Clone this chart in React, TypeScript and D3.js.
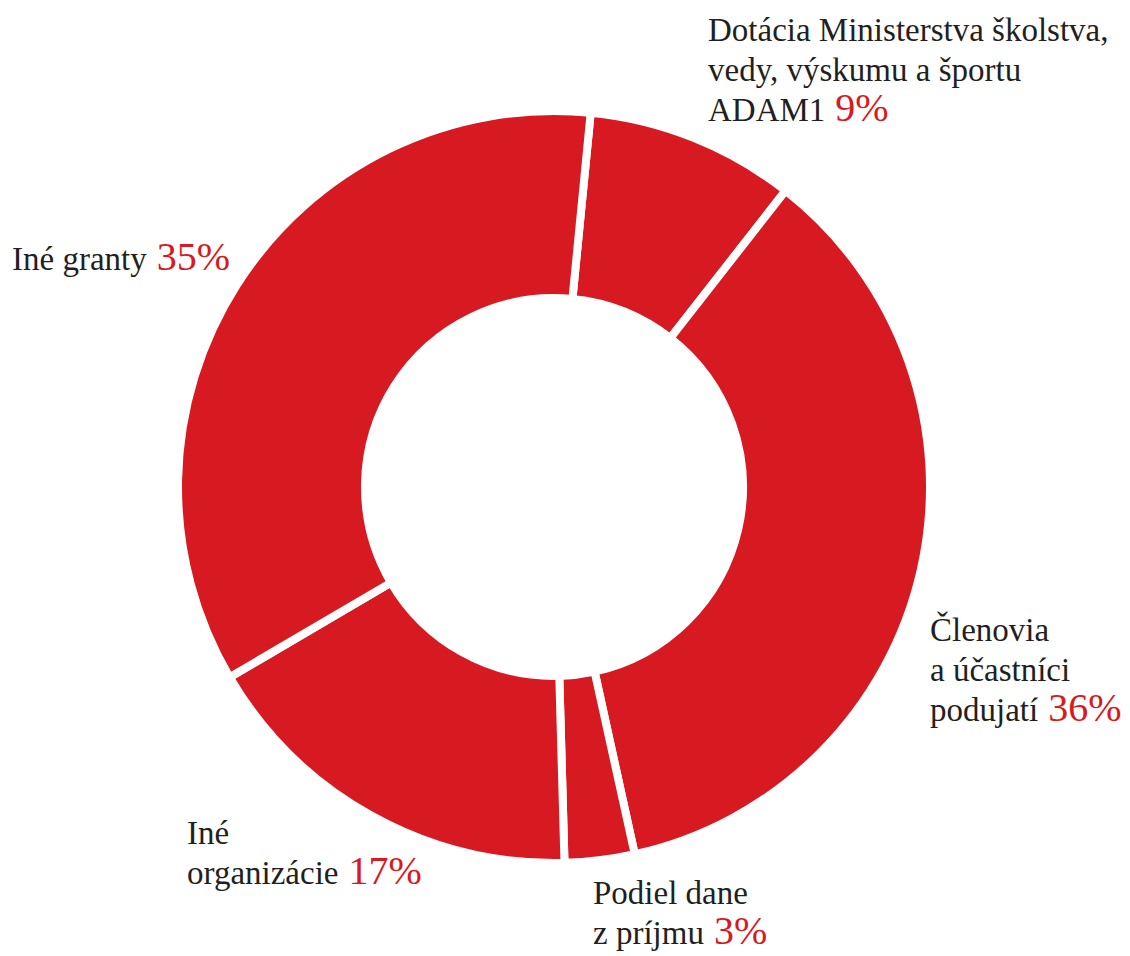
import React from "react";
import * as d3 from "d3";

// ---- data ----
const categories: string[] = [
  "Dotácia Ministerstva školstva, vedy, výskumu a športu ADAM1",
  "Členovia a účastníci podujatí",
  "Podiel dane z príjmu",
  "Iné organizácie",
  "Iné granty",
];
const values: number[] = [9, 36, 3, 17, 35];
// label text broken into lines (last line gets the percentage)
const labelLines: string[][] = [
  ["Dotácia Ministerstva školstva,", "vedy, výskumu a športu", "ADAM1"],
  ["Členovia", "a účastníci", "podujatí"],
  ["Podiel dane", "z príjmu"],
  ["Iné", "organizácie"],
  ["Iné granty"],
];

// ---- layout (not data) ----
const W = 1130;
const H = 956;
const CX = 554;
const CY = 487;
const R_OUT = 376;
const R_IN = 189;
const GAP = 8;
const START_DEG = 5.6;
const RED = "#d71a21";
const TEXT = "#231f20";
const FONT = "'Liberation Serif', 'Times New Roman', serif";
const FS = 33;
const FS_PCT = 40;
const LINE_H = 40;
const labelAnchors: { x: number; y: number }[] = [
  { x: 708, y: 41 },
  { x: 930, y: 641 },
  { x: 593, y: 904 },
  { x: 187, y: 844 },
  { x: 12, y: 270 },
];

export default function App() {
  const start = (START_DEG * Math.PI) / 180;
  const pie = d3
    .pie<number>()
    .value((d) => d)
    .sort(null)
    .startAngle(start)
    .endAngle(start + 2 * Math.PI);
  const arcs = pie(values);
  const arcGen = d3.arc<d3.PieArcDatum<number>>().innerRadius(R_IN).outerRadius(R_OUT);

  return (
    <svg
      width={W}
      height={H}
      viewBox={`0 0 ${W} ${H}`}
      style={{ position: "absolute", left: 0, top: 0, background: "#fff" }}
    >
      <g transform={`translate(${CX},${CY})`}>
        {arcs.map((a, i) => (
          <path
            key={categories[i]}
            d={arcGen(a) || ""}
            fill={RED}
            stroke="#fff"
            strokeWidth={GAP}
            strokeLinejoin="miter"
          />
        ))}
      </g>
      {labelLines.map((lines, i) => {
        const anc = labelAnchors[i];
        return (
          <text key={i} fontFamily={FONT} fontSize={FS} fill={TEXT}>
            {lines.map((ln, j) => (
              <tspan key={j} x={anc.x} y={anc.y + j * LINE_H}>
                {ln}
                {j === lines.length - 1 ? (
                  <tspan fill={RED} fontSize={FS_PCT}>
                    {" " + values[i] + "%"}
                  </tspan>
                ) : null}
              </tspan>
            ))}
          </text>
        );
      })}
    </svg>
  );
}
